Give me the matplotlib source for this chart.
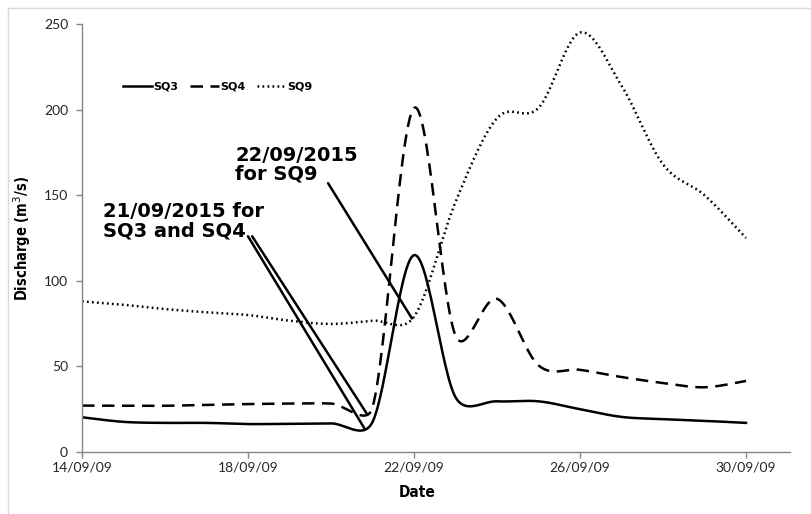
import numpy as np
import matplotlib
matplotlib.use("Agg")
import matplotlib.pyplot as plt
from matplotlib.lines import Line2D

# daily discharge, 14/09 .. 30/09
days = np.arange(14, 31)
sq3 = [20.3, 17.6, 17, 17, 16.3, 16.5, 16.7, 17.5, 115, 32, 29.6, 29.6, 25, 20.5, 19.2, 18.2, 17]
sq4 = [27.1, 27, 27, 27.5, 28, 28.3, 28.3, 26, 201, 68, 89.5, 50.6, 48, 43.8, 40.3, 37.8, 41.5]
sq9 = [88, 86, 83.5, 81.6, 80, 76.7, 74.8, 76.7, 79, 146, 195, 201, 245, 214, 168, 150, 125]

tick_days = [14, 18, 22, 26, 30]
tick_labels = ["14/09/09", "18/09/09", "22/09/09", "26/09/09", "30/09/09"]

W, H = 811, 514
fig = plt.figure(figsize=(W / 100, H / 100), dpi=100)
ax = fig.add_axes([82 / W, 1 - 452 / H, 708 / W, 428 / H])
ax.set_xlim(14, 31.06)
ax.set_ylim(0, 250)


def smooth(ax, x, y, n=30):
    # excel-like smoothed line: bezier segments, handles capped at half segment
    pts = ax.transData.transform(np.column_stack([x, y]))
    P = np.vstack([pts[0], pts, pts[-1]])
    out = []
    for i in range(1, len(P) - 2):
        p0, p1, p2, p3 = P[i - 1], P[i], P[i + 1], P[i + 2]
        seg = np.linalg.norm(p2 - p1)
        t1 = (p2 - p0) / 6
        t2 = (p3 - p1) / 6
        for t in (t1, t2):
            L = np.linalg.norm(t)
            if L > seg / 2 and L > 0:
                t *= (seg / 2) / L
        c1, c2 = p1 + t1, p2 - t2
        s = np.linspace(0, 1, n)[:, None]
        b = (1 - s) ** 3 * p1 + 3 * (1 - s) ** 2 * s * c1 + 3 * (1 - s) * s ** 2 * c2 + s ** 3 * p2
        out.append(b if i == 1 else b[1:])
    d = ax.transData.inverted().transform(np.vstack(out))
    return d[:, 0], d[:, 1]


lw = 1.8
x3, y3 = smooth(ax, days, sq3)
x4, y4 = smooth(ax, days, sq4)
x9, y9 = smooth(ax, days, sq9)
ax.plot(x3, y3, color="black", lw=lw, label="SQ3")
ax.plot(x4, y4, color="black", lw=lw, ls=(0, (5, 3)), label="SQ4")
ax.plot(x9, y9, color="black", lw=lw, ls=(0, (0.7, 1.3)), label="SQ9")

# annotations
ax.text(17.69, 179, "22/09/2015\nfor SQ9", fontsize=14, fontweight="bold",
        family="DejaVu Sans", va="top", ha="left", linespacing=1.0)
ax.text(14.51, 146, "21/09/2015 for\nSQ3 and SQ4", fontsize=14, fontweight="bold",
        family="DejaVu Sans", va="top", ha="left", linespacing=1.0)
arrow = dict(arrowstyle="-", lw=1.8, color="black", shrinkA=0, shrinkB=0)
ax.annotate("", xy=(21.95, 78), xytext=(19.93, 157), arrowprops=arrow)
ax.annotate("", xy=(20.82, 13.2), xytext=(18.0, 126), arrowprops=arrow)
ax.annotate("", xy=(20.86, 22.5), xytext=(18.1, 126), arrowprops=arrow)

leg = ax.legend(loc="center left", bbox_to_anchor=(0.05, 0.853), ncol=3, frameon=False,
                handlelength=2.6, handletextpad=0.15, columnspacing=1.0, borderpad=0,
                prop=dict(family="DejaVu Sans", weight="bold", size=8))

# axes styling
grey = "#868686"
for s in ["top", "right"]:
    ax.spines[s].set_visible(False)
for s in ["left", "bottom"]:
    ax.spines[s].set_color(grey)
    ax.spines[s].set_linewidth(1.0)
ax.set_xticks(tick_days)
ax.set_xticklabels(tick_labels)
ax.set_yticks([0, 50, 100, 150, 200, 250])
ax.tick_params(axis="y", length=4, width=1, color=grey, pad=6, labelsize=10, labelcolor="#262626")
ax.tick_params(axis="x", length=4, width=1, color=grey, pad=3, labelsize=10, labelcolor="#262626")
for lab in ax.get_xticklabels() + ax.get_yticklabels():
    lab.set_family("Lato")

ax.set_ylabel("Discharge (m$^3$/s)", family="DejaVu Sans", fontstretch="condensed",
              fontweight="bold", fontsize=10.5)
ax.yaxis.set_label_coords(-0.069, 0.5)
ax.set_xlabel("Date", family="DejaVu Sans", fontstretch="condensed", fontweight="bold", fontsize=11)
ax.xaxis.set_label_coords(0.473, -0.076)

# chart area border (left and top edges visible)
fig.add_artist(Line2D([8 / W, 8 / W], [0, 1 - 8 / H], transform=fig.transFigure, color="#d9d9d9", lw=1))
fig.add_artist(Line2D([8 / W, 1], [1 - 8 / H, 1 - 8 / H], transform=fig.transFigure, color="#d9d9d9", lw=1))

fig.savefig("out.png", dpi=100)
